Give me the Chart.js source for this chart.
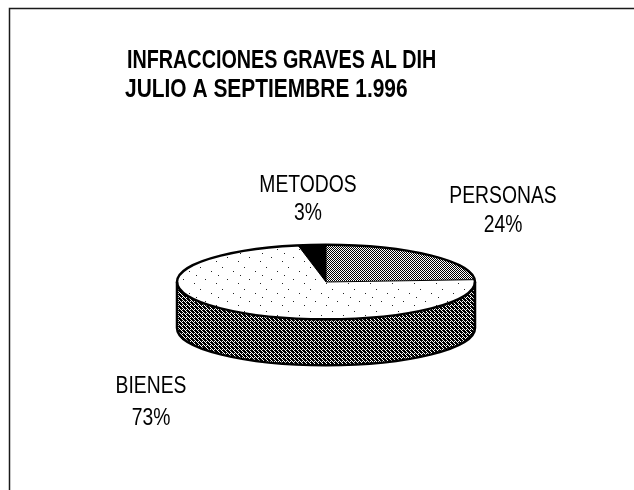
<!DOCTYPE html>
<html><head><meta charset="utf-8">
<script src="https://cdn.jsdelivr.net/npm/chart.js@4/dist/chart.umd.min.js"></script>
<style>html,body{margin:0;padding:0;background:#fff}#wrap{width:634px;height:490px}</style>
</head><body><div id="wrap"><canvas id="c" width="634" height="490"></canvas></div>
<script>
// ---- data ----
const categories = ['PERSONAS', 'BIENES', 'METODOS'];
const values = [24, 73, 3];
const titleLines = ['INFRACCIONES GRAVES AL DIH', 'JULIO A SEPTIEMBRE 1.996'];

// ---- layout / style (not data) ----
const TILT = 0.25, DEPTH = 46;
const labelPos = [ {x: 503, y1: 203, y2: 232}, {x: 151, y1: 393, y2: 425}, {x: 308, y1: 192, y2: 220} ];

const canvas = document.getElementById('c');
const c2d = canvas.getContext('2d');
function makePattern(size, bg, fg, pixels) {
  const t = document.createElement('canvas'); t.width = size; t.height = size;
  const x = t.getContext('2d'); x.fillStyle = bg; x.fillRect(0, 0, size, size);
  x.fillStyle = fg; pixels.forEach(p => x.fillRect(p[0], p[1], 1, 1));
  return c2d.createPattern(t, 'repeat');
}
const checker = []; for (let i = 0; i < 4; i++) for (let j = 0; j < 4; j++) if ((i + j) % 2 === 0) checker.push([i, j]);
const topPersonas = makePattern(4, '#ffffff', '#000000', checker);
const topBienes = makePattern(22, '#ffffff', '#222222', [[2,3],[13,7],[7,15],[18,19],[20,11]]);
const topMetodos = '#000000';
const sideDark = makePattern(4, '#ffffff', '#000000', checker.concat([[1,0],[3,2],[0,3]]));
const topFills = [topPersonas, topBienes, topMetodos];
const sideFills = [sideDark, sideDark, '#000000'];

function drawText(ctx, text, x, y, font, sx, align) {
  ctx.save(); ctx.font = font; ctx.fillStyle = '#000'; ctx.textAlign = align; ctx.textBaseline = 'alphabetic';
  ctx.translate(x, y); ctx.scale(sx, 1); ctx.fillText(text, 0, 0); ctx.restore();
}

const pie3d = {
  id: 'pie3d',
  beforeDraw(chart) {
    const ctx = chart.ctx;
    ctx.save(); ctx.strokeStyle = '#1a1a1a'; ctx.lineWidth = 1.5;
    ctx.beginPath(); ctx.moveTo(9.5, 490); ctx.lineTo(9.5, 8.5); ctx.lineTo(634, 8.5); ctx.stroke();
    ctx.restore();
  },
  beforeDatasetsDraw(chart) {
    const ctx = chart.ctx, meta = chart.getDatasetMeta(0);
    const a = meta.data[0], cx = a.x, cy = a.y, r = a.outerRadius, ry = r * TILT;
    ctx.save();
    meta.data.forEach((arc, i) => {
      [[0, Math.PI], [2 * Math.PI, 3 * Math.PI]].forEach(([lo, hi]) => {
        const s = Math.max(arc.startAngle, lo), e = Math.min(arc.endAngle, hi);
        if (e <= s) return;
        ctx.beginPath();
        ctx.ellipse(cx, cy, r, ry, 0, s, e, false);
        ctx.ellipse(cx, cy + DEPTH, r, ry, 0, e, s, true);
        ctx.closePath();
        ctx.fillStyle = sideFills[i]; ctx.fill();
      });
    });
    ctx.restore();
    const m = new DOMMatrix().translate(cx, cy).scale(1, 1 / TILT).translate(-cx, -cy);
    topFills.forEach(f => { if (f && f.setTransform) f.setTransform(m); });
    ctx.save();
    ctx.translate(cx, cy); ctx.scale(1, TILT); ctx.translate(-cx, -cy);
  },
  afterDatasetsDraw(chart) {
    const ctx = chart.ctx; ctx.restore();
    const meta = chart.getDatasetMeta(0);
    const a = meta.data[0], cx = a.x, cy = a.y, r = a.outerRadius, ry = r * TILT;
    ctx.save(); ctx.strokeStyle = '#000'; ctx.lineJoin = 'round';
    ctx.lineWidth = 1;
    meta.data.forEach(arc => {
      const ang = arc.startAngle;
      ctx.beginPath(); ctx.moveTo(cx, cy); ctx.lineTo(cx + r * Math.cos(ang), cy + ry * Math.sin(ang)); ctx.stroke();
    });
    ctx.lineWidth = 2.5;
    ctx.beginPath(); ctx.ellipse(cx, cy, r, ry, 0, 0, 2 * Math.PI); ctx.stroke();
    ctx.beginPath();
    ctx.moveTo(cx + r, cy); ctx.lineTo(cx + r, cy + DEPTH);
    ctx.ellipse(cx, cy + DEPTH, r, ry, 0, 0, Math.PI, false);
    ctx.lineTo(cx - r, cy);
    ctx.stroke();
    ctx.restore();
  },
  afterDraw(chart) {
    const ctx = chart.ctx;
    drawText(ctx, titleLines[0], 127, 68, 'bold 26px "Liberation Sans", Arial, sans-serif', 0.76, 'left');
    drawText(ctx, titleLines[1], 125, 97, 'bold 26px "Liberation Sans", Arial, sans-serif', 0.805, 'left');
    const total = values.reduce((s, v) => s + v, 0);
    categories.forEach((cat, i) => {
      const p = labelPos[i];
      drawText(ctx, cat, p.x, p.y1, '23px "Liberation Sans", Arial, sans-serif', 0.84, 'center');
      drawText(ctx, Math.round(values[i] / total * 100) + '%', p.x, p.y2, '23px "Liberation Sans", Arial, sans-serif', 0.84, 'center');
    });
  }
};

new Chart(canvas, {
  type: 'pie',
  data: { labels: categories, datasets: [{ data: values, backgroundColor: topFills, borderWidth: 0, clip: false }] },
  options: {
    responsive: false, animation: false, devicePixelRatio: 1,
    layout: { padding: { left: 177, right: 159, top: 133, bottom: 59 } },
    plugins: { legend: { display: false }, tooltip: { enabled: false }, title: { display: false } },
    events: []
  },
  plugins: [pie3d]
});
</script>
</body></html>
